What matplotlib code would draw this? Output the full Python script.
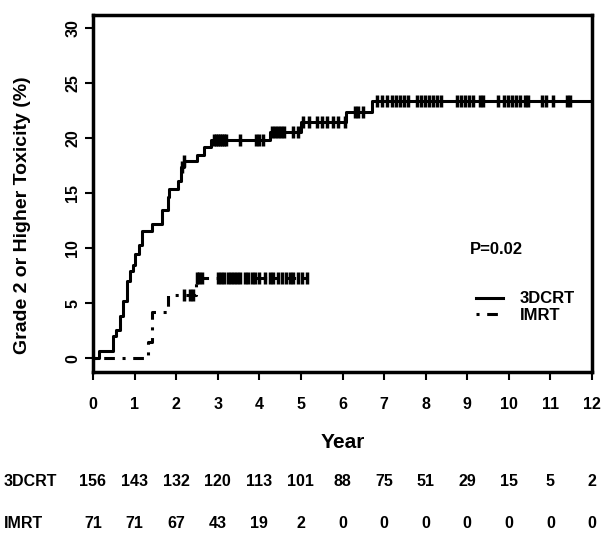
import numpy as np
import matplotlib.pyplot as plt
from matplotlib.transforms import blended_transform_factory

plt.rcParams['font.family'] = ['Liberation Sans', 'DejaVu Sans']
plt.rcParams['font.weight'] = 'bold'

# step curves (time in years, cumulative incidence in %)
crt_t = [0, 0.15, 0.49, 0.55, 0.65, 0.73, 0.81, 0.89, 0.95, 1.01, 1.11, 1.17, 1.41, 1.67, 1.80, 1.83,
         2.05, 2.12, 2.19, 2.50, 2.67, 2.83, 4.25, 5.01, 6.08, 6.72, 12.0]
crt_y = [0, 0.7, 2.0, 2.6, 3.8, 5.2, 7.0, 7.9, 8.5, 9.5, 10.3, 11.6, 12.2, 13.5, 14.7, 15.4,
         16.1, 17.4, 17.9, 18.5, 19.2, 19.8, 20.6, 21.5, 22.4, 23.4, 23.4]
imrt_t = [0, 1.33, 1.41, 1.80, 2.48, 5.17]
imrt_y = [0, 1.5, 4.2, 5.75, 7.27, 7.27]

# censored observations
crt_cens = [2.15, 2.2, 2.9, 2.95, 3.0, 3.05, 3.1, 3.15, 3.2, 3.53, 3.92, 4.0, 4.09,
            4.3, 4.38, 4.45, 4.52, 4.6, 4.8, 4.93, 5.05, 5.2, 5.38, 5.5, 5.62, 5.77, 5.9, 6.06,
            6.3, 6.37, 6.5, 6.83, 6.95, 7.07, 7.18, 7.28, 7.38, 7.48, 7.58, 7.78, 7.88, 7.98,
            8.08, 8.18, 8.28, 8.38, 8.75, 8.85, 8.95, 9.05, 9.13, 9.3, 9.38, 9.74, 9.88, 9.98,
            10.08, 10.18, 10.26, 10.38, 10.46, 10.8, 10.9, 11.06, 11.4, 11.47]
imrt_cens = [2.2, 2.33, 2.4, 2.5, 2.55, 2.62, 3.0, 3.08, 3.16, 3.24, 3.32, 3.4, 3.46,
             3.53, 3.65, 3.73, 3.82, 3.9, 4.0, 4.13, 4.25, 4.33, 4.45, 4.55, 4.65, 4.73,
             4.8, 4.93, 5.02, 5.14]

years = list(range(13))
risk_crt = [156, 143, 132, 120, 113, 101, 88, 75, 51, 29, 15, 5, 2]
risk_imrt = [71, 71, 67, 43, 19, 2, 0, 0, 0, 0, 0, 0, 0]


def level(ts, ys, x):
    i = np.searchsorted(ts, x, side='right') - 1
    return ys[i]


fig = plt.figure(figsize=(6.08, 5.46), dpi=100)
ax = fig.add_axes([93/608, 1-372/546, 499/608, 357/546])

ax.step(crt_t, crt_y, where='post', color='black', lw=2.2, label='3DCRT')
ax.step(imrt_t, imrt_y, where='post', color='black', lw=2.2, dashes=(1, 2.5, 3.5, 2.5), label='IMRT')
ax.plot(crt_cens, [level(crt_t, crt_y, c) for c in crt_cens], ls='none', marker='|',
        color='black', ms=9, mew=2.5)
ax.plot(imrt_cens, [level(imrt_t, imrt_y, c) for c in imrt_cens], ls='none', marker='|',
        color='black', ms=9, mew=2.5)

ax.set_xlim(0, 12)
ax.set_ylim(-1.25, 31.2)
ax.set_xticks(years)
ax.set_yticks(range(0, 31, 5))
for s in ax.spines.values():
    s.set_linewidth(2.5)
ax.tick_params(direction='out', length=6, width=1.5, labelsize=11.5)
for lab in ax.get_yticklabels():
    lab.set_rotation(90)
    lab.set_va('center')
ax.tick_params(axis='x', pad=12)
ax.tick_params(axis='y', pad=3)
ax.set_ylabel('Grade 2 or Higher Toxicity (%)', fontsize=14, fontweight='bold')
ax.yaxis.set_label_coords(-0.125, 0.44)
ax.set_xlabel('Year', fontsize=15, fontweight='bold', labelpad=15)

ax.text(470/608, 1-250/546, 'P=0.02', transform=fig.transFigure, fontsize=12, va='center')
ax.legend(loc='upper left', bbox_to_anchor=(468/608, 1-283/546), bbox_transform=fig.transFigure,
          frameon=False, fontsize=12, handlelength=1.6, handletextpad=1.0, labelspacing=0.1,
          borderpad=0)

tr = blended_transform_factory(ax.transData, fig.transFigure)
fig.text(4/608, 1-482/546, '3DCRT', fontsize=11.5, va='center')
fig.text(4/608, 1-523/546, 'IMRT', fontsize=11.5, va='center')
for x, a, b in zip(years, risk_crt, risk_imrt):
    ax.text(x, 1-482/546, str(a), transform=tr, ha='center', va='center', fontsize=11.5)
    ax.text(x, 1-523/546, str(b), transform=tr, ha='center', va='center', fontsize=11.5)

fig.savefig('out.png', dpi=100)
